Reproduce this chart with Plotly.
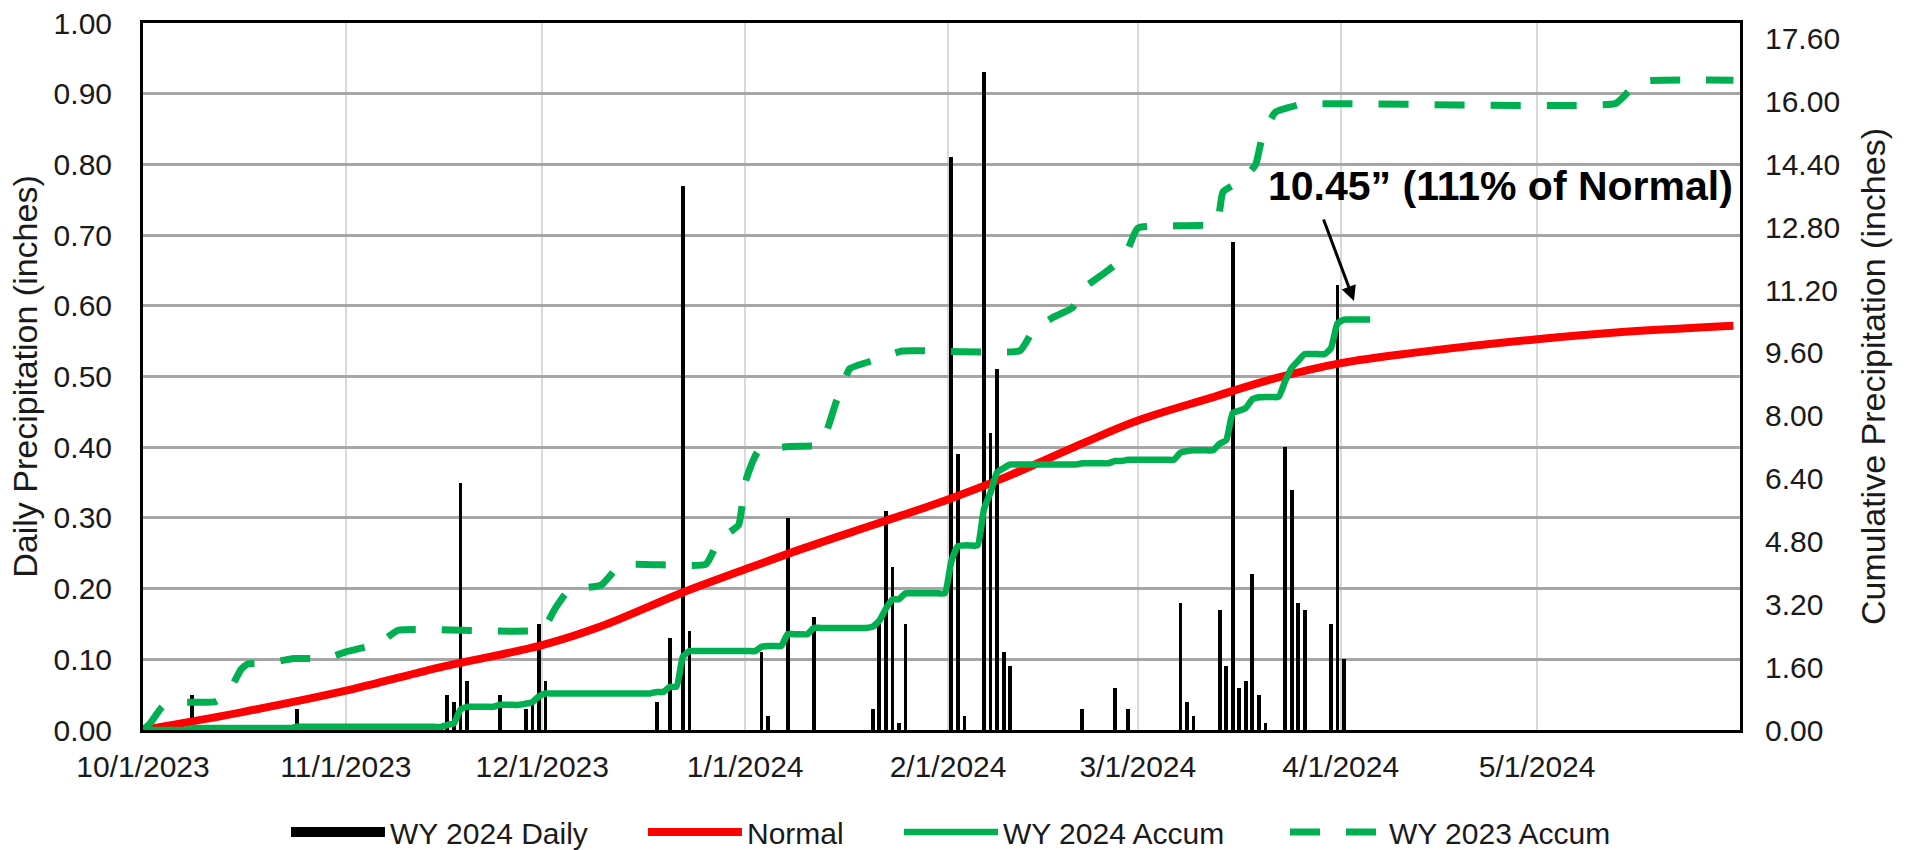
import pandas as pd
import plotly.graph_objects as go

# ---------------- data ----------------
# WY 2024 daily precipitation (inches)
daily_dates = [
    "2023-10-08", "2023-10-24",
    "2023-11-16", "2023-11-17", "2023-11-18", "2023-11-19", "2023-11-24",
    "2023-11-28", "2023-11-29", "2023-11-30",
    "2023-12-01", "2023-12-18", "2023-12-20", "2023-12-22", "2023-12-23",
    "2024-01-03", "2024-01-04", "2024-01-07", "2024-01-11", "2024-01-20",
    "2024-01-21", "2024-01-22", "2024-01-23", "2024-01-24", "2024-01-25",
    "2024-02-01", "2024-02-02", "2024-02-03", "2024-02-06", "2024-02-07",
    "2024-02-08", "2024-02-09", "2024-02-10", "2024-02-21", "2024-02-26",
    "2024-02-28",
    "2024-03-07", "2024-03-08", "2024-03-09", "2024-03-13", "2024-03-14",
    "2024-03-15", "2024-03-16", "2024-03-17", "2024-03-18", "2024-03-19",
    "2024-03-20", "2024-03-23", "2024-03-24", "2024-03-25", "2024-03-26",
    "2024-03-30", "2024-03-31", "2024-04-01",
]
daily_in = [
    0.05, 0.03,
    0.05, 0.04, 0.35, 0.07, 0.05,
    0.03, 0.04, 0.15,
    0.07, 0.04, 0.13, 0.77, 0.14,
    0.11, 0.02, 0.30, 0.16, 0.03,
    0.15, 0.31, 0.23, 0.01, 0.15,
    0.81, 0.39, 0.02, 0.93, 0.42,
    0.51, 0.11, 0.09, 0.03, 0.06,
    0.03,
    0.18, 0.04, 0.02, 0.17, 0.09,
    0.69, 0.06, 0.07, 0.22, 0.05,
    0.01, 0.40, 0.34, 0.18, 0.17,
    0.15, 0.63, 0.10,
]
wy24_start = "2023-10-01"
wy24_end = "2024-04-05"

# Normal cumulative precipitation (inches)
normal_dates = [
    "2023-10-01", "2023-10-16", "2023-11-01", "2023-11-16", "2023-12-01",
    "2023-12-10", "2023-12-22", "2024-01-01", "2024-01-10", "2024-01-22",
    "2024-02-01", "2024-02-10", "2024-02-22", "2024-03-01", "2024-03-12",
    "2024-03-21", "2024-04-01", "2024-04-13", "2024-05-01", "2024-05-13",
    "2024-05-31",
]
normal_in = [
    0.00, 0.45, 1.00, 1.62, 2.16,
    2.64, 3.47, 4.09, 4.63, 5.30,
    5.87, 6.45, 7.33, 7.88, 8.45,
    8.91, 9.34, 9.62, 9.95, 10.12,
    10.29,
]

# WY 2023 cumulative precipitation (inches), plotted on the same calendar
wy23_dates = [
    "2023-10-01", "2023-10-02", "2023-10-04", "2023-10-06", "2023-10-12",
    "2023-10-14", "2023-10-16", "2023-10-17", "2023-10-20", "2023-10-24",
    "2023-10-29", "2023-11-01", "2023-11-06", "2023-11-09", "2023-12-01",
    "2023-12-03", "2023-12-05", "2023-12-10", "2023-12-13", "2023-12-26",
    "2023-12-28", "2023-12-31", "2024-01-01", "2024-01-03", "2024-01-08",
    "2024-01-12", "2024-01-13", "2024-01-15", "2024-01-17", "2024-01-21",
    "2024-01-25", "2024-02-12", "2024-02-14", "2024-02-17", "2024-02-20",
    "2024-02-22", "2024-02-25", "2024-02-28", "2024-03-01", "2024-03-13",
    "2024-03-14", "2024-03-17", "2024-03-19", "2024-03-20", "2024-03-21",
    "2024-03-22", "2024-03-26", "2024-05-13", "2024-05-15", "2024-05-17",
    "2024-05-31",
]
wy23_in = [
    0.00, 0.15, 0.60, 0.70, 0.72,
    0.95, 1.55, 1.68, 1.70, 1.82,
    1.82, 1.99, 2.20, 2.54, 2.56,
    3.10, 3.55, 3.69, 4.20, 4.22,
    4.84, 5.22, 6.30, 7.10, 7.22,
    7.24, 7.40, 8.40, 9.20, 9.43,
    9.65, 9.66, 10.17, 10.50, 10.75,
    11.28, 11.65, 12.05, 12.78, 12.90,
    13.70, 14.01, 14.40, 15.10, 15.45,
    15.73, 15.93, 15.95, 16.26, 16.51,
    16.54,
]

# axes / ticks
x_range = ["2023-10-01", "2024-06-01"]
x_tick_dates = ["2023-10-01", "2023-11-01", "2023-12-01", "2024-01-01",
                "2024-02-01", "2024-03-01", "2024-04-01", "2024-05-01"]
x_tick_labels = ["10/1/2023", "11/1/2023", "12/1/2023", "1/1/2024",
                 "2/1/2024", "3/1/2024", "4/1/2024", "5/1/2024"]
y_ticks = [0.0, 0.1, 0.2, 0.3, 0.4, 0.5, 0.6, 0.7, 0.8, 0.9, 1.0]
y2_ticks = [0.0, 1.6, 3.2, 4.8, 6.4, 8.0, 9.6, 11.2, 12.8, 14.4, 16.0, 17.6]
y_range = [0, 1.0]
y2_range = [0, 18.0]

annotation_text = "10.45\u201d (111% of Normal)"

# ---------------- derived series ----------------
half_day = pd.Timedelta(hours=12)
day_index = pd.date_range(wy24_start, wy24_end, freq="D")
daily_series = pd.Series(0.0, index=day_index)
daily_series.loc[pd.to_datetime(daily_dates)] = daily_in
wy24_accum = daily_series.cumsum()

GREEN = "#00B050"
RED = "#FF0000"
FONT = "Liberation Sans, Arial, sans-serif"

FIG_W, FIG_H = 1915, 850
# plot-area geometry in window pixels
PL, PR, PT, PB = 143, 1740, 23, 730
PW, PH = PR - PL, PB - PT


def px_x(p):
    return (p - PL) / PW


def px_y(p):
    return (PB - p) / PH


fig = go.Figure()

fig.add_trace(go.Bar(
    x=pd.to_datetime(daily_dates) + half_day, y=daily_in,
    width=0.58 * 86400000,
    marker=dict(color="black", line=dict(width=0)),
    name="WY 2024 Daily", showlegend=False, yaxis="y",
))
# legend entry for the daily bars (wide black swatch)
fig.add_trace(go.Scatter(
    x=[None], y=[None], mode="lines",
    line=dict(color="black", width=16),
    name="WY 2024 Daily", yaxis="y2", legend="legend",
))
fig.add_trace(go.Scatter(
    x=pd.to_datetime(normal_dates), y=normal_in, mode="lines",
    line=dict(color=RED, width=8, shape="spline", smoothing=1.0),
    name="Normal", yaxis="y2", legend="legend2",
))
fig.add_trace(go.Scatter(
    x=wy24_accum.index + half_day, y=wy24_accum.values, mode="lines",
    line=dict(color=GREEN, width=6.5, shape="spline", smoothing=0.5),
    name="WY 2024 Accum", yaxis="y2", legend="legend3",
))
fig.add_trace(go.Scatter(
    x=pd.to_datetime(wy23_dates), y=wy23_in, mode="lines",
    line=dict(color=GREEN, width=7, dash="30px,26px", shape="spline", smoothing=0.4),
    name="WY 2023 Accum", yaxis="y2", legend="legend4",
))

LEG_Y = px_y(832)
LEG_OFF = 8
LEG_IW = 94


def leg(xpix):
    return dict(orientation="h", x=px_x(xpix - LEG_OFF), xanchor="left",
                y=LEG_Y, yanchor="middle", font=dict(size=30),
                itemwidth=LEG_IW, bgcolor="rgba(0,0,0,0)")


fig.update_layout(
    width=FIG_W, height=FIG_H,
    margin=dict(l=PL, r=FIG_W - PR, t=PT, b=FIG_H - PB, autoexpand=False),
    plot_bgcolor="white", paper_bgcolor="white",
    font=dict(family=FONT, size=30, color="#1a1a1a"),
    bargap=0,
    xaxis=dict(
        type="date", range=x_range,
        tickmode="array", tickvals=x_tick_dates, ticktext=x_tick_labels,
        showgrid=True, gridcolor="#D9D9D9", gridwidth=2,
        showline=True, linecolor="black", linewidth=3, mirror=True,
        ticks="", ticklabelstandoff=8, zeroline=False, automargin=False,
        ticklabeloverflow="allow",
    ),
    yaxis=dict(
        range=y_range, tickmode="array", tickvals=y_ticks, tickformat=".2f",
        showgrid=True, gridcolor="#A6A6A6", gridwidth=2.5,
        showline=True, linecolor="black", linewidth=3, mirror=True,
        ticks="", ticklabelstandoff=22, zeroline=False, automargin=False,
        ticklabeloverflow="allow",
        title=dict(text="Daily Precipitation (inches)", font=dict(size=34), standoff=6),
    ),
    yaxis2=dict(
        overlaying="y", side="right", range=y2_range,
        tickmode="array", tickvals=y2_ticks, tickformat=".2f",
        showgrid=False, showline=False, zeroline=False,
        ticks="", ticklabelstandoff=24, automargin=False,
        ticklabeloverflow="allow",
        title=dict(text="Cumulative Precipitation (inches)", font=dict(size=34), standoff=22),
    ),
    legend=leg(294),
    legend2=leg(651),
    legend3=leg(907),
    legend4=leg(1293),
    annotations=[
        dict(text=annotation_text, xref="paper", yref="paper",
             x=px_x(1500), y=px_y(186),
             xanchor="center", yanchor="middle", showarrow=False,
             font=dict(size=41, family=FONT, color="black", weight="bold")),
        dict(text="", xref="paper", yref="paper",
             x=px_x(1354), y=px_y(301),
             ax=-31, ay=-83, showarrow=True,
             arrowhead=2, arrowsize=1, arrowwidth=3, arrowcolor="black"),
    ],
)

# remove the browser's default 8px body margin so the figure fills the window
fig.write_html("out.html",
               config={"displayModeBar": False},
               post_script="document.body.style.margin='0px';document.body.style.overflow='hidden';")
